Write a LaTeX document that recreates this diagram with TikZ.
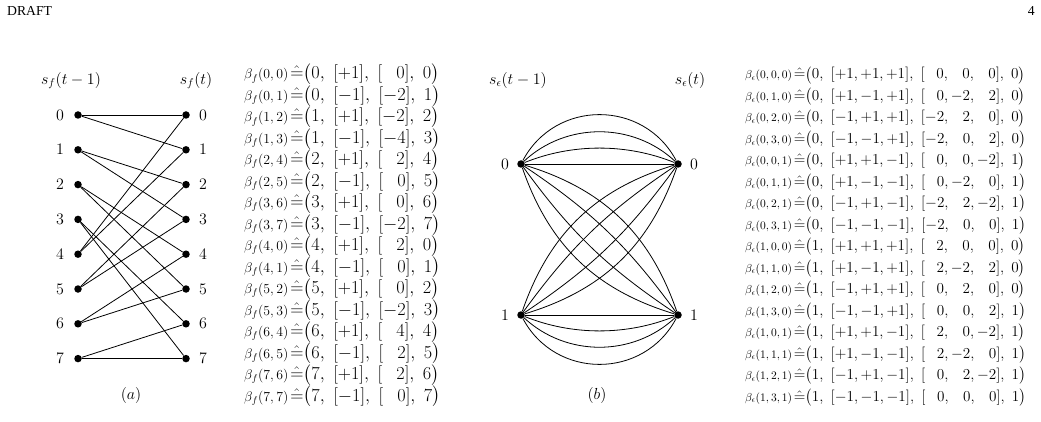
\RequirePackage{fix-cm}
\documentclass[tikz,border=0pt]{standalone}
\usepackage{amsmath}
\usepackage{fontspec}
\newfontfamily\timesfont{Liberation Serif}
\newcommand{\fsL}{\fontsize{16}{19}\selectfont}
\newcommand{\fsLS}{\fontsize{13.8}{16}\selectfont}
\newcommand{\fsLB}{\fontsize{18.3}{21}\selectfont}
\newcommand{\fsRS}{\fontsize{11.5}{14}\selectfont}
\newcommand{\fsRB}{\fontsize{15.2}{18}\selectfont}
\newcommand{\pz}[1]{\phantom{-}#1}
\begin{document}
\begin{tikzpicture}[x=1pt,y=1pt,
  dot/.style={circle,fill=black,inner sep=0pt,minimum size=7.5pt},
  lab/.style={font=\fsL,inner sep=0pt},
  edge/.style={line width=0.8pt},
  rowbox/.style={anchor=west,inner sep=0pt,text height=12pt,text depth=4pt}]
\useasboundingbox (0,0) rectangle (1041,-422);
% header
\node[anchor=base west,inner sep=0pt,font=\timesfont\fontsize{13.7}{16}\selectfont] (draft) at (7,-16) {DRAFT};
\node[anchor=base east,inner sep=0pt,font=\timesfont\fontsize{13.7}{16}\selectfont] (page) at (1035,-16) {4};
% left trellis
\node[lab] (fhl) at (71,-80.5) {$s_f(t-1)$};
\node[lab] (fhr) at (196,-80.5) {$s_f(t)$};
\foreach \i in {0,...,7} {
  \node[dot] (fl\i) at (78,{-115-34.8*\i}) {};
  \node[dot] (fr\i) at (186,{-115-34.8*\i}) {};
  \node[lab] (fll\i) at (60,{-115-34.8*\i}) {$\i$};
  \node[lab] (frl\i) at (203,{-115-34.8*\i}) {$\i$};
}
\foreach \a/\b in {0/0,0/1,1/2,1/3,2/4,2/5,3/6,3/7,4/0,4/1,5/2,5/3,6/4,6/5,7/6,7/7}
  \draw[edge] (fl\a) -- (fr\b);
\node[lab] (capa) at (131,-395) {$(a)$};
% left table
\foreach \p/\q/\s/\m [count=\k from 0] in {
  0/0/+/\pz0, 0/1/-/-2, 1/2/+/-2, 1/3/-/-4,
  2/4/+/\pz2, 2/5/-/\pz0, 3/6/+/\pz0, 3/7/-/-2,
  4/0/+/\pz2, 4/1/-/\pz0, 5/2/+/\pz0, 5/3/-/-2,
  6/4/+/\pz4, 6/5/-/\pz2, 7/6/+/\pz2, 7/7/-/\pz0}
  \node[rowbox] (fb\k) at (244,{-75-21.47*\k})
    {{\fsLS$\beta_f(\p,\q)$}{\fsLB$\mkern2mu\hat{=}\bigl(\p,\ [\s1],\ [\m],\ \q\bigr)$}};
% right trellis
\node[lab] (ehl) at (518,-80.5) {$s_\epsilon(t-1)$};
\node[lab] (ehr) at (690,-80.5) {$s_\epsilon(t)$};
\node[dot] (e0l) at (521,-164) {};
\node[dot] (e0r) at (678,-164) {};
\node[dot] (e1l) at (521,-315) {};
\node[dot] (e1r) at (678,-315) {};
\node[lab] (e0ll) at (505,-164) {$0$};
\node[lab] (e0rl) at (694,-164) {$0$};
\node[lab] (e1ll) at (505,-315) {$1$};
\node[lab] (e1rl) at (694,-315) {$1$};
\draw[edge] (e0l) -- (e0r);
\draw[edge] (e0l) to[bend left=22,looseness=0.88] (e0r);
\draw[edge] (e0l) to[bend left=43,looseness=0.98] (e0r);
\draw[edge] (e0l) to[bend left=62,looseness=1.16] (e0r);
\draw[edge] (e1l) -- (e1r);
\draw[edge] (e1l) to[bend right=22,looseness=0.88] (e1r);
\draw[edge] (e1l) to[bend right=43,looseness=0.98] (e1r);
\draw[edge] (e1l) to[bend right=62,looseness=1.16] (e1r);
\foreach \b in {27,10} {
  \draw[edge] (e0l) to[bend right=\b] (e1r);
  \draw[edge] (e0l) to[bend left=\b] (e1r);
  \draw[edge] (e1l) to[bend right=\b] (e0r);
  \draw[edge] (e1l) to[bend left=\b] (e0r);
}
\node[lab] (capb) at (597,-395) {$(b)$};
% right table
\foreach \p/\q/\r/\sa/\sb/\sc/\ma/\mb/\mc/\n [count=\k from 0] in {
  0/0/0/+/+/+/\pz0/\pz0/\pz0/0,
  0/1/0/+/-/+/\pz0/-2/\pz2/0,
  0/2/0/-/+/+/-2/\pz2/\pz0/0,
  0/3/0/-/-/+/-2/\pz0/\pz2/0,
  0/0/1/+/+/-/\pz0/\pz0/-2/1,
  0/1/1/+/-/-/\pz0/-2/\pz0/1,
  0/2/1/-/+/-/-2/\pz2/-2/1,
  0/3/1/-/-/-/-2/\pz0/\pz0/1,
  1/0/0/+/+/+/\pz2/\pz0/\pz0/0,
  1/1/0/+/-/+/\pz2/-2/\pz2/0,
  1/2/0/-/+/+/\pz0/\pz2/\pz0/0,
  1/3/0/-/-/+/\pz0/\pz0/\pz2/1,
  1/0/1/+/+/-/\pz2/\pz0/-2/1,
  1/1/1/+/-/-/\pz2/-2/\pz0/1,
  1/2/1/-/+/-/\pz0/\pz2/-2/1,
  1/3/1/-/-/-/\pz0/\pz0/\pz0/1}
  \node[rowbox] (eb\k) at (745,{-75-21.47*\k})
    {{\fsRS$\beta_\epsilon(\p,\q,\r)$}{\fsRB$\mkern2mu\hat{=}\bigl(\p,\ [\sa1,\sb1,\sc1],\ [\ma,\mb,\mc],\ \n\bigr)$}};
\end{tikzpicture}
\end{document}
